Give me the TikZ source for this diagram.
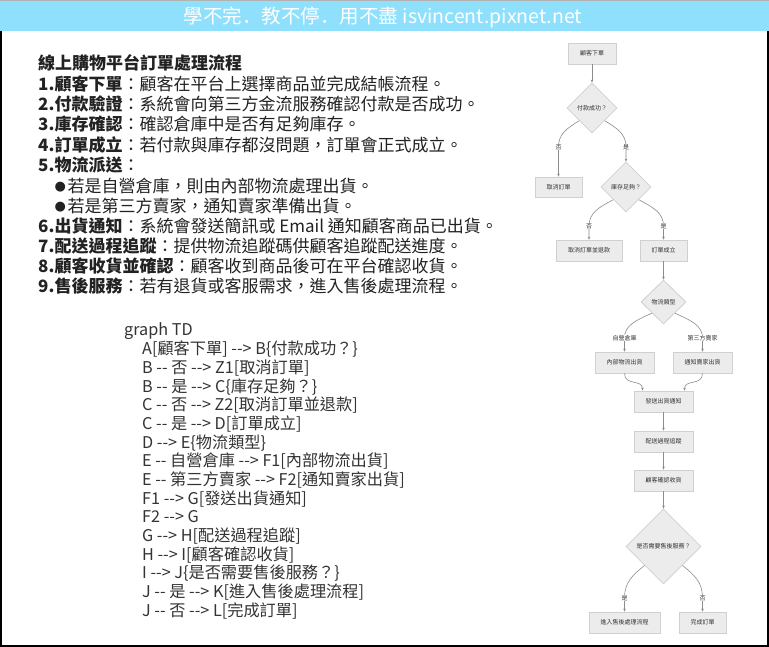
\documentclass[tikz,border=0pt]{standalone}
\usepackage{fontspec}
\setmainfont{Noto Sans CJK TC}
\newfontfamily\codefont{Noto Sans CJK TC}
\newfontfamily\scfont{Noto Sans CJK SC}
\newfontfamily\djv{DejaVu Sans}
\usetikzlibrary{shapes.geometric,arrows.meta}
\definecolor{band}{RGB}{142,224,252}
\definecolor{txt}{RGB}{34,34,34}
\definecolor{ctxt}{RGB}{51,51,51}
\definecolor{nfill}{RGB}{236,236,236}
\definecolor{nline}{RGB}{208,208,208}
\definecolor{eline}{RGB}{140,140,140}
\definecolor{ntxt}{RGB}{51,51,51}
\newcommand{\bul}{\raisebox{1.8pt}{\djv\fontsize{13}{13}\selectfont ●}\hspace{1.5pt}}
\newcommand{\hdot}{{\scfont ．}}
\begin{document}
\begin{tikzpicture}[x=1pt,y=-1pt,
  box/.style={draw=nline, fill=nfill, line width=0.8pt, minimum height=21pt, inner sep=0pt, font=\fontsize{6}{7}\selectfont, text=ntxt},
  dia/.style={diamond, draw=nline, fill=nfill, line width=0.8pt, inner sep=0pt, shape aspect=1, font=\fontsize{6}{7}\selectfont, text=ntxt},
  elab/.style={fill=white, inner sep=0.6pt, font=\fontsize{6}{7}\selectfont, text=ntxt},
  conn/.style={draw=eline, line width=0.6pt, -{Stealth[length=3pt,width=2.6pt]}},
  para/.style={anchor=base west, inner sep=0pt, font=\fontsize{17}{20}\selectfont, text=txt},
  codeline/.style={anchor=base west, inner sep=0pt, font=\codefont\fontsize{16.2}{19}\selectfont, text=ctxt}]
\useasboundingbox (0,0) rectangle (769,647);
% header band and frame
\fill[white] (0,0) rectangle (769,647);
\fill[band] (0,0) rectangle (769,31);
\draw[gray!60, line width=1pt] (0,0.5) -- (769,0.5);
\draw[black, line width=2pt] (1,31) -- (1,645.7) -- (768,645.7) -- (768,31);
\node[text=white, font=\fontsize{19.5}{22}\selectfont, inner sep=0pt] (hdr) at (383,17) {學不完\hdot 教不停\hdot 用不盡 isvincent.pixnet.net};

% left description
\node[para] (t0) at (38,70) {\bfseries 線上購物平台訂單處理流程};
\node[para] (t1) at (38,90.5) {{\bfseries 1.顧客下單}：顧客在平台上選擇商品並完成結帳流程。};
\node[para] (t2) at (38,110.5) {{\bfseries 2.付款驗證}：系統會向第三方金流服務確認付款是否成功。};
\node[para] (t3) at (38,131) {{\bfseries 3.庫存確認}：確認倉庫中是否有足夠庫存。};
\node[para] (t4) at (38,151.5) {{\bfseries 4.訂單成立}：若付款與庫存都沒問題，訂單會正式成立。};
\node[para] (t5) at (38,172) {{\bfseries 5.物流派送}：};
\node[para] (t6) at (54.5,192.5) {\bul 若是自營倉庫，則由內部物流處理出貨。};
\node[para] (t7) at (54.5,212.5) {\bul 若是第三方賣家，通知賣家準備出貨。};
\node[para] (t8) at (38,232.5) {{\bfseries 6.出貨通知}：系統會發送簡訊或 Email 通知顧客商品已出貨。};
\node[para] (t9) at (38,252.5) {{\bfseries 7.配送過程追蹤}：提供物流追蹤碼供顧客追蹤配送進度。};
\node[para] (t10) at (38,272.5) {{\bfseries 8.顧客收貨並確認}：顧客收到商品後可在平台確認收貨。};
\node[para] (t11) at (38,292.5) {{\bfseries 9.售後服務}：若有退貨或客服需求，進入售後處理流程。};

% code block
\node[codeline] (c0) at (124,336) {graph TD};
\node[codeline] (c1) at (142,354.7) {A[顧客下單] --> B\{付款成功？\}};
\node[codeline] (c2) at (142,373.3) {B -- 否 --> Z1[取消訂單]};
\node[codeline] (c3) at (142,392) {B -- 是 --> C\{庫存足夠？\}};
\node[codeline] (c4) at (142,410.7) {C -- 否 --> Z2[取消訂單並退款]};
\node[codeline] (c5) at (142,429.3) {C -- 是 --> D[訂單成立]};
\node[codeline] (c6) at (142,448) {D --> E\{物流類型\}};
\node[codeline] (c7) at (142,466.7) {E -- 自營倉庫 --> F1[內部物流出貨]};
\node[codeline] (c8) at (142,485.3) {E -- 第三方賣家 --> F2[通知賣家出貨]};
\node[codeline] (c9) at (142,504) {F1 --> G[發送出貨通知]};
\node[codeline] (c10) at (142,522.7) {F2 --> G};
\node[codeline] (c11) at (142,541.3) {G --> H[配送過程追蹤]};
\node[codeline] (c12) at (142,560) {H --> I[顧客確認收貨]};
\node[codeline] (c13) at (142,578.7) {I --> J\{是否需要售後服務？\}};
\node[codeline] (c14) at (142,597.3) {J -- 是 --> K[進入售後處理流程]};
\node[codeline] (c15) at (142,616) {J -- 否 --> L[完成訂單]};

% flowchart nodes
\node[box, minimum width=48pt] (A) at (592,53.5) {顧客下單};
\node[dia, minimum width=50pt, minimum height=50pt] (B) at (592,108) {付款成功？};
\node[box, minimum width=47pt, minimum height=20pt] (Z1) at (558.5,187) {取消訂單};
\node[dia, minimum width=50pt, minimum height=50pt] (C) at (626,187) {庫存足夠？};
\node[box, minimum width=66pt] (Z2) at (589,250.5) {取消訂單並退款};
\node[box, minimum width=47pt] (D) at (663.5,250.5) {訂單成立};
\node[dia, minimum width=45pt, minimum height=44pt] (E) at (663.5,302) {物流類型};
\node[box, minimum width=59pt] (F1) at (624.5,362.5) {內部物流出貨};
\node[box, minimum width=59pt] (F2) at (702.5,362.5) {通知賣家出貨};
\node[box, minimum width=59pt] (G) at (663.5,401.5) {發送出貨通知};
\node[box, minimum width=59pt] (H) at (663.5,441.5) {配送過程追蹤};
\node[box, minimum width=59pt] (I) at (663.5,480.5) {顧客確認收貨};
\node[dia, minimum width=75pt, minimum height=75pt] (J) at (663.5,546.5) {是否需要售後服務？};
\node[box, minimum width=71pt] (K) at (624.5,622.5) {進入售後處理流程};
\node[box, minimum width=47pt] (L) at (702.5,622.5) {完成訂單};

% label positions
\coordinate (lb1) at (558.5,147);
\coordinate (lb2) at (626,147);
\coordinate (lc1) at (589,226);
\coordinate (lc2) at (663.5,226);
\coordinate (le1) at (624.5,338);
\coordinate (le2) at (702.5,338);
\coordinate (lj1) at (624.5,598);
\coordinate (lj2) at (702.5,598);

% connectors
\draw[conn] (A) -- (B);
\draw[conn] (B.south west) .. controls (566.6,128.5) and (558.5,134) .. (lb1) -- (Z1);
\draw[conn] (B.south east) .. controls (617.4,128.5) and (626,134) .. (lb2) -- (C);
\draw[conn] (C.south west) .. controls (598.5,207.5) and (589,213) .. (lc1) -- (Z2);
\draw[conn] (C.south east) .. controls (653.5,207.5) and (663.5,213) .. (lc2) -- (D);
\draw[conn] (D) -- (E);
\draw[conn] (E.south west) .. controls (635.4,320.5) and (624.5,325.5) .. (le1) -- (F1);
\draw[conn] (E.south east) .. controls (691.2,320.5) and (702.5,325.5) .. (le2) -- (F2);
\draw[conn] (F1.south) .. controls (624.5,386) and (642.5,379) .. ([xshift=-21pt]G.north);
\draw[conn] (F2.south) .. controls (702.5,386) and (684.5,379) .. ([xshift=21pt]G.north);
\draw[conn] (G) -- (H);
\draw[conn] (H) -- (I);
\draw[conn] (I) -- (J);
\draw[conn] (J.south west) .. controls (632.8,575) and (624.5,582) .. (lj1) -- (K);
\draw[conn] (J.south east) .. controls (694.4,575) and (702.5,582) .. (lj2) -- (L);

% connector labels
\node[elab] (nb1) at (lb1) {否};
\node[elab] (nb2) at (lb2) {是};
\node[elab] (nc1) at (lc1) {否};
\node[elab] (nc2) at (lc2) {是};
\node[elab] (ne1) at (le1) {自營倉庫};
\node[elab] (ne2) at (le2) {第三方賣家};
\node[elab] (nj1) at (lj1) {是};
\node[elab] (nj2) at (lj2) {否};
\end{tikzpicture}
\end{document}
